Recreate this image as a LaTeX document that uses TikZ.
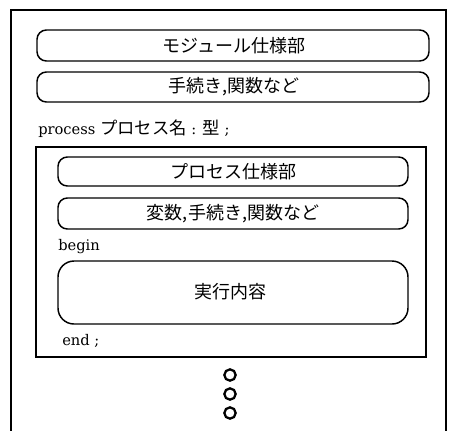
\documentclass[tikz,border=0pt]{standalone}
\usepackage{fontspec}
\newfontfamily\jp{Noto Sans CJK JP}
\newfontfamily\lat{DejaVu Serif}
\begin{document}
\begin{tikzpicture}[x=0.75pt,y=-0.75pt,
  rbox/.style={draw,line width=1.1pt,rounded corners=7pt},
  lbl/.style={font=\jp\fontsize{13.5pt}{16pt}\selectfont},
  lat/.style={font=\lat\fontsize{11pt}{14pt}\selectfont,anchor=base west,inner sep=0pt},
  dot/.style={draw,line width=1.7pt,circle,minimum size=8.5pt,inner sep=0pt}]
\useasboundingbox (0,0) rectangle (456,430);
% outer frame (open at bottom)
\draw[line width=1.3pt] (11,431) -- (11,10) -- (446,10) -- (446,431);
% module boxes
\draw[rbox] (37,30) rectangle (429,61);
\node[lbl] (mod) at (234,45.5) {モジュール仕様部};
\draw[rbox] (37,72) rectangle (429,102);
\node[lbl] (proc) at (234,87) {手続き,関数など};
\node[lat] (pname) at (38,134) {process {\jp\fontsize{13pt}{16pt}\selectfont プロセス名} : {\jp\fontsize{13pt}{16pt}\selectfont 型} ;};
% inner process box
\draw[line width=1.8pt] (36,147) rectangle (426,357);
\draw[rbox] (58,157) rectangle (408,186);
\node[lbl] (pspec) at (233,171.5) {プロセス仕様部};
\draw[rbox] (58,198) rectangle (408,229);
\node[lbl] (vars) at (233,213.5) {変数,手続き,関数など};
\node[lat] (begin) at (58,250) {begin};
\draw[rbox,rounded corners=12pt] (58,261) rectangle (408,324);
\node[lbl] (exec) at (230,292) {実行内容};
\node[lat] (end) at (62,345) {end ;};
% continuation dots
\node[dot] (d1) at (230,375) {};
\node[dot] (d2) at (230,394) {};
\node[dot] (d3) at (230,413) {};
\end{tikzpicture}
\end{document}
